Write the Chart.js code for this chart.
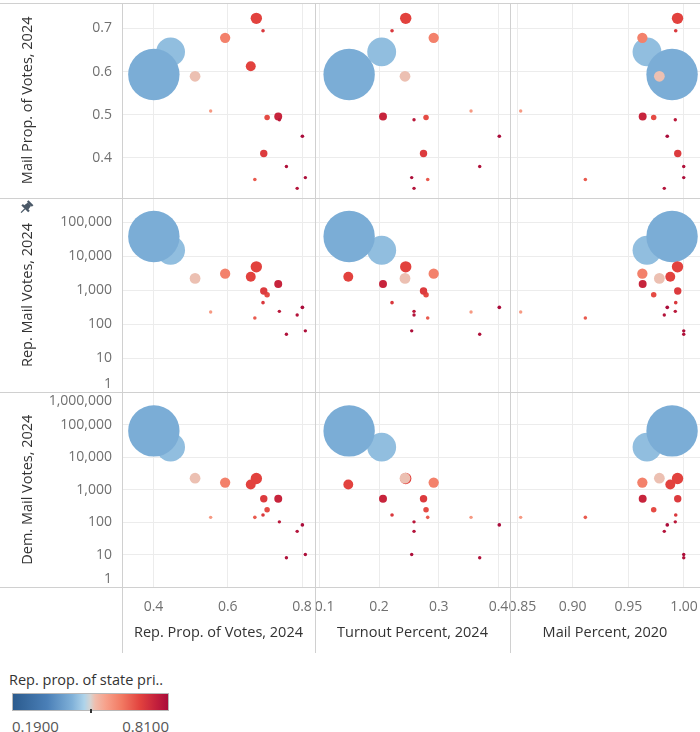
<!DOCTYPE html>
<html>
<head>
<meta charset="utf-8">
<title>Mail voting scatter-plot matrix</title>
<script src="https://cdn.jsdelivr.net/npm/chart.js"></script>
<style>
  html, body { margin: 0; padding: 0; background: #ffffff; }
  #wrap { position: relative; width: 700px; height: 732px; overflow: hidden;
          font-family: 'Open Sans', 'Noto Sans', sans-serif; }
  #plot { position: absolute; left: 0; top: 0; width: 700px; height: 660px; }
  .leg { position: absolute; white-space: nowrap; }
  #legTitle { left: 9px; top: 670px; font-size: 14.5px; line-height: 20px; color: #333333; }
  #legBar { left: 12px; top: 693px; width: 155px; height: 16px; border: 1px solid #b8b8b8; }
  #legTick { top: 709px; width: 2px; height: 4px; background: #333333; }
  #legMin { left: 12px; top: 716px; font-size: 15px; line-height: 20px; color: #555555; }
  #legMax { left: 88px; width: 81px; text-align: right; top: 716px; font-size: 15px; line-height: 20px; color: #555555; }
</style>
</head>
<body>
<div id="wrap">
  <div id="plot"><canvas id="chart"></canvas></div>
  <div class="leg" id="legTitle">Rep. prop. of state pri..</div>
  <div class="leg" id="legBar"></div>
  <div class="leg" id="legTick"></div>
  <div class="leg" id="legMin"></div>
  <div class="leg" id="legMax"></div>
</div>
<script>
// ---------------- data (one entry per county / area) ----------------
const repPropVotes   = [0.446, 0.662, 0.401, 0.677, 0.512, 0.593, 0.554, 0.695, 0.706, 0.736, 0.739, 0.697, 0.801, 0.758, 0.673, 0.809, 0.787];
const turnoutPct     = [0.2045, 0.1486, 0.150, 0.2447, 0.2435, 0.2915, 0.354, 0.2218, 0.2787, 0.2067, 0.2586, 0.2745, 0.4013, 0.3685, 0.2815, 0.2547, 0.2586];
const mailPct2020    = [0.9668, 0.9877, 0.9893, 0.9942, 0.9779, 0.9626, 0.8533, 0.9926, 0.9728, 0.9629, 0.9922, 0.9944, 0.985, 0.9998, 0.9114, 0.9998, 0.9823];
const mailPropVotes  = [0.6456, 0.6123, 0.593, 0.7233, 0.589, 0.678, 0.5084, 0.6944, 0.4937, 0.496, 0.4884, 0.410, 0.450, 0.3798, 0.350, 0.3542, 0.3293];
const repMailVotes   = [14900, 2500, 38100, 4870, 2230, 3070, 229, 431, 741, 1535, 240, 953, 315, 51, 152, 64, 187];
const demMailVotes   = [20500, 1450, 64700, 2200, 2250, 1650, 140, 165, 240, 526, 102, 526, 82, 8, 140, 10, 52];
const totalVotes     = [54800, 6450, 173400, 8500, 7600, 6960, 726, 858, 1990, 4155, 700, 3607, 882, 155, 834, 209, 726];
const statePrimaryRepProp = [0.445, 0.698, 0.419, 0.698, 0.516, 0.612, 0.574, 0.717, 0.686, 0.754, 0.779, 0.711, 0.81, 0.798, 0.667, 0.804, 0.79];

// tick labels
const xTicksRepProp = [0.4, 0.6, 0.8];
const xTicksTurnout = [0.1, 0.2, 0.3, 0.4];
const xTicksMail20  = [0.85, 0.90, 0.95, 1.00];
const yTicksMailProp = [0.4, 0.5, 0.6, 0.7];
const yTicksRepMail  = [1, 10, 100, 1000, 10000, 100000];
const yTicksDemMail  = [1, 10, 100, 1000, 10000, 100000, 1000000];
const colorDomain = [0.19, 0.81];
const colorMidMark = 0.5;

// ---------------- styles ----------------
const FONT = "'Open Sans', 'Noto Sans', sans-serif";
const GRID = '#ececec';
const FRAME = '#d0d0d0';
const TICK_COLOR = '#707070';
const TITLE_COLOR = '#333333';
const MAX_R = 25.7, MIN_R = 1.7;
const STOPS = [
  [0.00, '#2b5b8e'], [0.22, '#4a7fb7'], [0.38, '#7fb0d8'], [0.46, '#aed3ea'],
  [0.50, '#d6d3d1'], [0.53, '#efbdad'], [0.60, '#f7a08a'], [0.70, '#f27a63'],
  [0.82, '#e2423e'], [0.92, '#c4213c'], [1.00, '#aa0c3a']
];

function hex2rgb(h) { return [1, 3, 5].map(i => parseInt(h.substr(i, 2), 16)); }
function colorFor(v) {
  let t = (v - colorDomain[0]) / (colorDomain[1] - colorDomain[0]);
  t = Math.max(0, Math.min(1, t));
  for (let i = 1; i < STOPS.length; i++) {
    if (t <= STOPS[i][0]) {
      const [t0, c0] = STOPS[i - 1], [t1, c1] = STOPS[i];
      const f = (t - t0) / (t1 - t0);
      const a = hex2rgb(c0), b = hex2rgb(c1);
      return 'rgb(' + a.map((x, k) => Math.round(x + (b[k] - x) * f)).join(',') + ')';
    }
  }
  return STOPS[STOPS.length - 1][1];
}
const maxTotal = Math.max(...totalVotes);
function radiusFor(v) { return Math.max(MIN_R, MAX_R * Math.sqrt(v / maxTotal)); }

const pointColors = statePrimaryRepProp.map(colorFor);
const pointRadii = totalVotes.map(radiusFor);

// ---------------- legend (HTML) ----------------
document.getElementById('legBar').style.background =
  'linear-gradient(to right, ' + STOPS.map(s => s[1] + ' ' + (s[0] * 100) + '%').join(', ') + ')';
document.getElementById('legTick').style.left =
  (13 + 155 * (colorMidMark - colorDomain[0]) / (colorDomain[1] - colorDomain[0]) - 1) + 'px';
document.getElementById('legMin').textContent = colorDomain[0].toFixed(4);
document.getElementById('legMax').textContent = colorDomain[1].toFixed(4);

// ---------------- scales ----------------
const fmtComma = v => Number(v).toLocaleString('en-US');
function edgeShift(label, v, min, max) {
  if (v === min) return [label, ''];
  if (v === max) return ['', label];
  return label;
}
// nudge a label that sits right at the left edge of its pane inward (as Tableau does)
function xEdgeNudge(label, v, min, max) {
  return (v - min) / (max - min) < 0.05 ? '   ' + label : label;
}
function noPad(s) { s.paddingLeft = 0; s.paddingRight = 0; s.paddingTop = 0; s.paddingBottom = 0; }
function xAxis(min, max, ticks, title, order, widthWeight, digits) {
  return {
    type: 'linear', position: 'bottom', stack: 'cols', stackWeight: widthWeight, weight: order,
    min: min, max: max,
    afterBuildTicks: s => { s.ticks = ticks.map(v => ({ value: v })); },
    afterFit: s => { s.height = 73; noPad(s); },
    grid: { color: GRID, lineWidth: 1, drawTicks: false },
    border: { display: false },
    ticks: { padding: 12, color: TICK_COLOR, font: { family: FONT, size: 14 }, maxRotation: 0, autoSkip: false,
             callback: v => xEdgeNudge(Number(v).toFixed(digits), v, min, max) },
    title: { display: true, text: title, color: TITLE_COLOR, font: { family: FONT, size: 14.5 },
             padding: { top: 0, bottom: 18 } }
  };
}
function yAxis(type, min, max, ticks, title, order, fmt) {
  return {
    type: type, position: 'left', stack: 'rows', stackWeight: 1, weight: order,
    min: min, max: max,
    afterBuildTicks: s => { s.ticks = ticks.map(v => ({ value: v })); },
    afterFit: s => { s.width = 122; noPad(s); },
    grid: { color: GRID, lineWidth: 1, drawTicks: false },
    border: { display: false },
    ticks: { padding: 10, color: TICK_COLOR, font: { family: FONT, size: 14 }, autoSkip: false,
             callback: v => edgeShift(fmt(v), v, min, max) },
    title: { display: true, text: title, color: TITLE_COLOR, font: { family: FONT, size: 14.5 },
             padding: { top: 19, bottom: 0 } }
  };
}

const scales = {
  x1: xAxis(0.3152, 0.835, xTicksRepProp, 'Rep. Prop. of Votes, 2024', 1, 193, 1),
  x2: xAxis(0.0929, 0.4192, xTicksTurnout, 'Turnout Percent, 2024', 2, 195, 1),
  x3: xAxis(0.8437, 1.0144, xTicksMail20, 'Mail Percent, 2020', 3, 190, 2),
  y1: yAxis('linear', 0.3077, 0.7588, yTicksMailProp, 'Mail Prop. of Votes, 2024', 3, v => Number(v).toFixed(1)),
  y2: yAxis('logarithmic', 1, 525000, yTicksRepMail, 'Rep. Mail Votes, 2024', 2, fmtComma),
  y3: yAxis('logarithmic', 1, 1000000, yTicksDemMail, 'Dem. Mail Votes, 2024', 1, fmtComma)
};

// ---------------- datasets: 3 x 3 panels ----------------
const xVars = [['x1', repPropVotes], ['x2', turnoutPct], ['x3', mailPct2020]];
const yVars = [['y1', mailPropVotes], ['y2', repMailVotes], ['y3', demMailVotes]];
const datasets = [];
yVars.forEach(([yId, yVals]) => {
  xVars.forEach(([xId, xVals]) => {
    datasets.push({
      xAxisID: xId, yAxisID: yId, clip: 0,
      data: xVals.map((xv, i) => ({ x: xv, y: yVals[i], r: pointRadii[i] })),
      backgroundColor: pointColors, borderWidth: 0, hoverBorderWidth: 0
    });
  });
});

// ---------------- pane frame + pin icon ----------------
const framePlugin = {
  id: 'paneFrame',
  beforeDatasetsDraw(chart) {
    const { ctx, chartArea: a, scales: s, width } = chart;
    ctx.save();
    ctx.strokeStyle = FRAME;
    ctx.lineWidth = 1;
    [a.top, s.y2.top, s.y3.top, a.bottom].forEach(y => {
      const yy = Math.round(y) + 0.5;
      ctx.beginPath(); ctx.moveTo(0, yy); ctx.lineTo(width, yy); ctx.stroke();
    });
    const yEnd = s.x1.bottom - 7;
    [a.left, s.x2.left, s.x3.left].forEach(x => {
      const xx = Math.round(x) + 0.5;
      ctx.beginPath(); ctx.moveTo(xx, a.top); ctx.lineTo(xx, yEnd); ctx.stroke();
    });
    // pin icon next to the second row title
    ctx.translate(26, s.y2.top + 10);
    ctx.rotate(Math.PI / 4);
    ctx.fillStyle = '#4a5867';
    ctx.strokeStyle = '#4a5867';
    ctx.fillRect(-3.5, -7, 7, 2.2);
    ctx.beginPath(); ctx.moveTo(-2.2, -5); ctx.lineTo(2.2, -5); ctx.lineTo(3, 0); ctx.lineTo(-3, 0); ctx.closePath(); ctx.fill();
    ctx.fillRect(-4.8, -0.5, 9.6, 2.2);
    ctx.lineWidth = 1.2;
    ctx.beginPath(); ctx.moveTo(0, 1.5); ctx.lineTo(0, 7); ctx.stroke();
    ctx.restore();
  }
};

Chart.defaults.font.family = FONT;
new Chart(document.getElementById('chart'), {
  type: 'bubble',
  data: { datasets: datasets },
  options: {
    responsive: true, maintainAspectRatio: false, animation: false, events: [],
    layout: { autoPadding: false, padding: { top: 3, left: 0, right: 0, bottom: 0 } },
    plugins: { legend: { display: false }, tooltip: { enabled: false } },
    scales: scales
  },
  plugins: [framePlugin]
});
</script>
</body>
</html>
